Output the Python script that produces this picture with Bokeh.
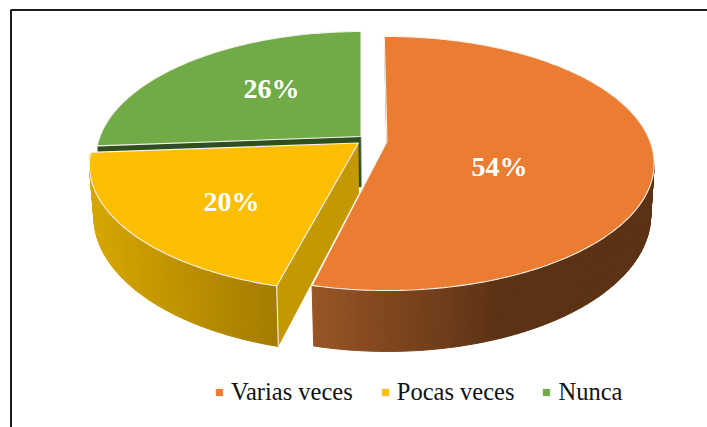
import math
from bokeh.plotting import figure
from bokeh.models import Legend, LegendItem, Range1d
from bokeh.core.properties import value
from bokeh.embed import file_html
from bokeh.resources import INLINE

# ---- data ----
categories = ["Varias veces", "Pocas veces", "Nunca"]
percent = [54, 20, 26]
top_colors = ["#EB7D32", "#FBBE00", "#70AB48"]

# ---- view geometry (page pixels) ----
W, H = 707, 427
KP = 0.1732          # perspective
RX, RY = 265.0, 123.2
ROT = -0.7
DEPTH = 50.5
BX, BY = 0.985, 1.07  # scale of the lower rim
APEX = {"Varias veces": (386.5, 141), "Pocas veces": (358, 142.5), "Nunca": (360.5, 136)}
RX_SCALE = {"Varias veces": 0.993, "Pocas veces": 1.0, "Nunca": 0.985}
START_TILT = {"Varias veces": 0.0, "Pocas veces": 1.2, "Nunca": 0.0}
WALL_FROM = {"Varias veces": 100.0, "Pocas veces": 190.0}
LABEL_POS = {"Varias veces": (499, 166), "Pocas veces": (231, 201), "Nunca": (271, 88)}

def top_pt(cat, deg):
    apex = APEX[cat]
    t = math.radians(deg)
    u, v = math.sin(t), -math.cos(t)
    s = 1 / (1 - KP * v)
    return apex[0] + RX * RX_SCALE[cat] * u * s, apex[1] + RY * v * s

def bot_pt(cat, deg):
    apex = APEX[cat]
    t = math.radians(deg)
    u, v = math.sin(t), -math.cos(t)
    s = 1 / (1 - KP * v)
    return apex[0] + 0.5 + RX * RX_SCALE[cat] * BX * u * s, apex[1] + DEPTH + RY * BY * v * s

def lerp(c0, c1, f):
    f = max(0, min(1, f))
    return "#%02x%02x%02x" % tuple(int(round(a + (b - a) * f)) for a, b in zip(c0, c1))

def degs(a, b, step=1.0):
    n = max(2, int(abs(b - a) / step))
    return [a + (b - a) * i / n for i in range(n + 1)]

edges = [ROT]
for val in percent:
    edges.append(edges[-1] + val * 3.6)
edges[-1] = 360.0
span = {c: (edges[i] + START_TILT[c], edges[i + 1]) for i, c in enumerate(categories)}

p = figure(width=W, height=H, x_range=Range1d(0, W), y_range=Range1d(H, 0),
           output_backend="svg", toolbar_location=None, min_border=0,
           outline_line_color=None, background_fill_color="white")
p.axis.visible = False
p.grid.visible = False

# frame
p.line([10.5, 10.5, W], [H, 9.5, 9.5], line_color="#1c1c1c", line_width=2)

# wall gradients: colour depends on the horizontal position of the strip
WALL = {
    "Varias veces": ((152, 85, 38), (92, 50, 20), 312, 500),
    "Pocas veces": ((214, 166, 0), (163, 123, 0), 92, 279),
}

def draw_wall(cat):
    a, b = span[cat]
    a = max(a, WALL_FROM[cat])
    c0, c1, x0, x1 = WALL[cat]
    xs, ys, cols = [], [], []
    dd = degs(b, a, 1.0)
    for d0, d1 in zip(dd[:-1], dd[1:]):
        t0, t1 = top_pt(cat, d0), top_pt(cat, d1)
        b0, b1 = bot_pt(cat, d0), bot_pt(cat, d1)
        xs.append([t0[0], t1[0], b1[0], b0[0]])
        ys.append([t0[1], t1[1], b1[1], b0[1]])
        cols.append(lerp(c0, c1, ((t0[0] + t1[0]) / 2 - x0) / (x1 - x0)))
    p.patches(xs, ys, fill_color=cols, line_color=cols, line_width=1.0)

def draw_top(cat, color):
    a, b = span[cat]
    pts = [APEX[cat]] + [top_pt(cat, d) for d in degs(a, b, 1.0)]
    return p.patch([q[0] for q in pts], [q[1] for q in pts], fill_color=color,
                   line_color="#f4f1ea", line_width=1.1)

def cut_face(cat, deg, **style):
    ap = APEX[cat]
    t, b = top_pt(cat, deg), bot_pt(cat, deg)
    p.patch([ap[0], t[0], b[0], ap[0] + 0.5], [ap[1], t[1], b[1], ap[1] + DEPTH], **style)
    return t, b

tops = {}
# Nunca: only its cut face shows
cut_face("Nunca", span["Nunca"][0], fill_color="#2f4f1f", line_color="#9a9f90", line_width=0.7)
tops["Nunca"] = draw_top("Nunca", top_colors[2])

# Pocas veces
draw_wall("Pocas veces")
t, b = cut_face("Pocas veces", span["Pocas veces"][0], fill_color="#C49800", line_color=None)
p.line([t[0], b[0]], [t[1], b[1]], line_color="#f4f1ea", line_width=1.1)
tops["Pocas veces"] = draw_top("Pocas veces", top_colors[1])

# Varias veces
draw_wall("Varias veces")
cut_face("Varias veces", span["Varias veces"][0], fill_color="#7a6656", line_color=None)
tops["Varias veces"] = draw_top("Varias veces", top_colors[0])

# percentage labels
for cat, val in zip(categories, percent):
    x, y = LABEL_POS[cat]
    p.text([x], [y], text=[f"{val}%"], text_color="white", text_font=value("Liberation Serif"),
           text_font_size="28px", text_font_style="bold", text_align="center",
           text_baseline="middle")

legend = Legend(items=[LegendItem(label=c, renderers=[tops[c]]) for c in categories],
                orientation="horizontal", location=(214, 21), background_fill_alpha=0,
                border_line_color=None, padding=0, margin=0, spacing=27, label_standoff=7,
                glyph_width=10, glyph_height=10, label_text_font="Liberation Serif",
                label_text_font_size="24.5px", label_text_color="#111111")
p.add_layout(legend, "center")

open("out.html", "w").write(file_html(p, INLINE))
